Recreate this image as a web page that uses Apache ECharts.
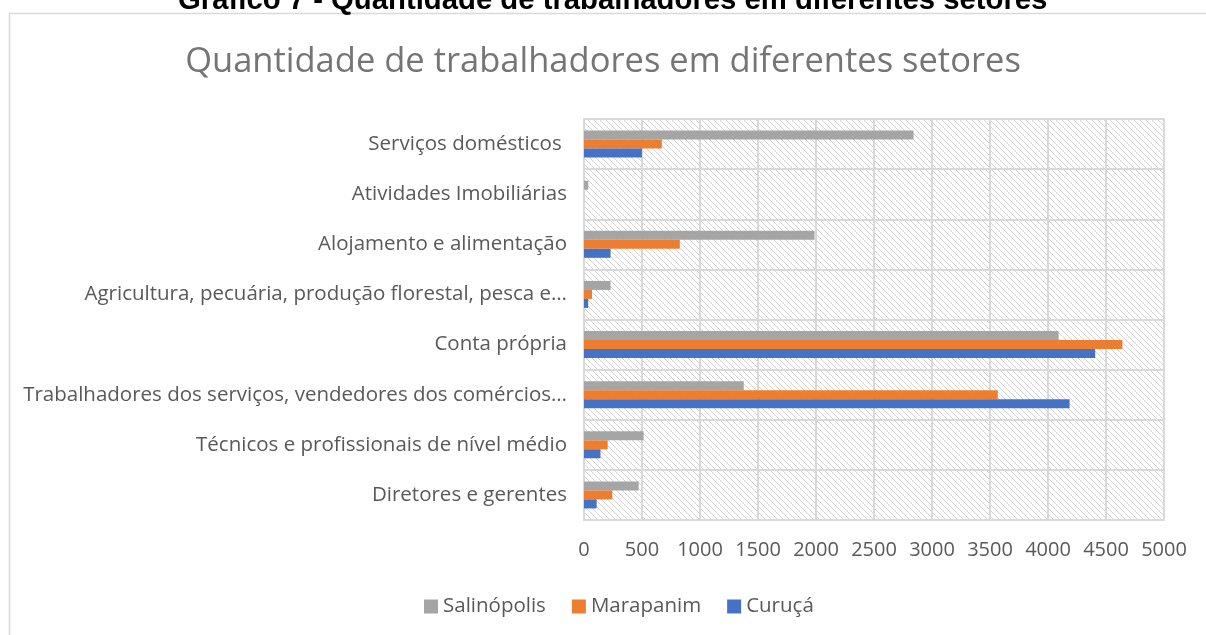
<!DOCTYPE html>
<html>
<head>
<meta charset="utf-8">
<title>Quantidade de trabalhadores em diferentes setores</title>
<script src="https://cdn.jsdelivr.net/npm/echarts@6/dist/echarts.min.js"></script>
<style>
  html, body { margin: 0; padding: 0; background: #fff; }
  #chart { width: 1206px; height: 635px; }
</style>
</head>
<body>
<div id="chart"></div>
<script>
// categories from bottom to top (as the category axis is drawn)
const setores = [
  "Diretores e gerentes",
  "Técnicos e profissionais de nível médio",
  "Trabalhadores dos serviços, vendedores dos comércios…",
  "Conta própria",
  "Agricultura, pecuária, produção florestal, pesca e…",
  "Alojamento e alimentação",
  "Atividades Imobiliárias",
  "Serviços domésticos "
];
const curuca = [109, 142, 4186, 4407, 36, 229, 0, 499];
const marapanim = [244, 204, 3567, 4641, 69, 826, 0, 671];
const salinopolis = [471, 514, 1377, 4091, 229, 1987, 37, 2841];
const xTicks = { min: 0, max: 5000, interval: 500 };

const font = "Open Sans";

// diagonal hatch used as the plot background
function hatch() {
  let c = document.createElement("canvas");
  c.width = 6;
  c.height = 6;
  let ctx = c.getContext("2d");
  ctx.fillStyle = "#ffffff";
  ctx.fillRect(0, 0, 6, 6);
  ctx.strokeStyle = "#d4d4d4";
  ctx.lineWidth = 1;
  ctx.beginPath();
  ctx.moveTo(-1, -1); ctx.lineTo(7, 7);
  ctx.moveTo(-1, 5); ctx.lineTo(1, 7);
  ctx.moveTo(5, -1); ctx.lineTo(7, 1);
  ctx.stroke();
  return c;
}

let myChart = echarts.init(document.getElementById("chart"));

let barStyle = (name, color, data) => ({
  name: name,
  type: "bar",
  data: data,
  barWidth: 9,
  barGap: "0%",
  itemStyle: { color: color },
  emphasis: { disabled: true },
});

let option = {
  backgroundColor: "#ffffff",
  animation: false,
  textStyle: { fontFamily: font },
  graphic: [
    {
      type: "rect",
      shape: { x: 9.5, y: 13.5, width: 1300, height: 700 },
      style: { fill: null, stroke: "#d9d9d9", lineWidth: 1.5 },
      z: -10,
    },
    {
      type: "text",
      left: 178,
      top: -14,
      style: {
        text: "Gráfico 7 - Quantidade de trabalhadores em diferentes setores",
        font: "bold 29.3px 'Liberation Sans', Arial",
        fill: "#000000",
      },
    },
  ],
  title: {
    text: "Quantidade de trabalhadores em diferentes setores",
    left: "center",
    top: 40,
    textStyle: {
      fontFamily: font,
      fontSize: 34.5,
      fontWeight: "normal",
      color: "#757575",
    },
  },
  legend: {
    data: ["Salinópolis", "Marapanim", "Curuçá"],
    top: 591,
    left: 419,
    icon: "rect",
    itemWidth: 14,
    itemHeight: 14,
    itemGap: 26,
    textStyle: { fontFamily: font, fontSize: 20.5, color: "#595959" },
  },
  grid: {
    left: 584,
    right: 42,
    top: 119,
    bottom: 115,
    show: true,
    backgroundColor: { image: hatch(), repeat: "repeat" },
    borderColor: "#d9d9d9",
    borderWidth: 2,
  },
  xAxis: {
    type: "value",
    min: xTicks.min,
    max: xTicks.max,
    interval: xTicks.interval,
    axisLine: { show: false },
    axisTick: { show: false },
    axisLabel: {
      fontFamily: font,
      fontSize: 20,
      color: "#595959",
      margin: 20,
      formatter: (v) => String(v),
    },
    splitLine: { lineStyle: { color: "#d9d9d9", width: 2 } },
  },
  yAxis: {
    type: "category",
    data: setores,
    axisLine: { show: true, lineStyle: { color: "#d9d9d9", width: 2 } },
    axisTick: { show: false },
    axisLabel: { fontFamily: font, fontSize: 20.5, color: "#595959", margin: 17 },
    splitLine: { show: true, lineStyle: { color: "#d9d9d9", width: 2 } },
  },
  series: [
    barStyle("Salinópolis", "#A5A5A5", salinopolis),
    barStyle("Marapanim", "#ED7D31", marapanim),
    barStyle("Curuçá", "#4472C4", curuca),
  ],
};

myChart.setOption(option);
</script>
</body>
</html>
